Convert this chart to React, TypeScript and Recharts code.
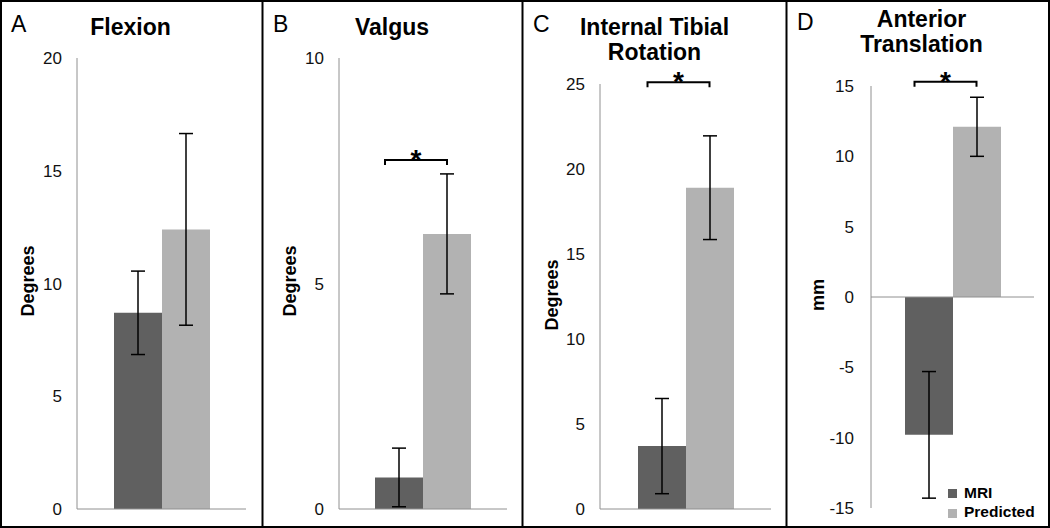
import React from 'react';
import { BarChart, Bar, XAxis, YAxis, ErrorBar, ReferenceLine } from 'recharts';

// values
const panelLetters = ['A', 'B', 'C', 'D'];
const panelTitles = [['Flexion'], ['Valgus'], ['Internal Tibial', 'Rotation'], ['Anterior', 'Translation']];
const yAxisTitles = ['Degrees', 'Degrees', 'Degrees', 'mm'];
const mriMeans = [8.7, 0.7, 3.7, -9.8];
const mriErrors = [1.85, 0.65, 2.8, 4.5];
const predictedMeans = [12.4, 6.1, 18.9, 12.1];
const predictedErrors = [4.25, 1.33, 3.05, 2.1];
const yTicks = [
  [0, 5, 10, 15, 20],
  [0, 5, 10],
  [0, 5, 10, 15, 20, 25],
  [-15, -10, -5, 0, 5, 10, 15],
];
// height of the significance bracket (null = not significant)
const bracketHeights = [null, 7.74, 25.1, 15.3];
const seriesNames = ['MRI', 'Predicted'];

const MRI_COLOR = '#606060';
const PRED_COLOR = '#b2b2b2';
const AXIS_COLOR = '#909090';
const FONT = '"Liberation Sans", Arial, sans-serif';

// panel geometry
const layout = [
  { left: 0, width: 262, axisW: 77, top: 58, bottom: 19, right: 16, tickGap: 15, titleY: 35, letterY: 32, labelX: 28, labelY: 281 },
  { left: 262, width: 260, axisW: 77, top: 58, bottom: 19, right: 15, tickGap: 15, titleY: 35, letterY: 32, labelX: 28, labelY: 281 },
  { left: 522, width: 264, axisW: 78, top: 84, bottom: 19, right: 15, tickGap: 15, titleY: 35, letterY: 32, labelX: 29.5, labelY: 295 },
  { left: 786, width: 264, axisW: 85, top: 86, bottom: 20, right: 16, tickGap: 17, titleY: 27, letterY: 30, labelX: 32, labelY: 295 },
];

const Bracket = (props: any) => {
  const { x1, x2, y1 } = props;
  const cx = (x1 + x2) / 2;
  const l = cx - 38;
  const r = cx + 24;
  return (
    <g>
      <path d={`M${l},${y1 + 5}V${y1}H${r}V${y1 + 5}`} stroke="#000" strokeWidth={2} fill="none" />
      <text x={(l + r) / 2} y={y1 + 9} textAnchor="middle" fontSize={28} fontWeight="bold" fill="#000">*</text>
    </g>
  );
};

const Panel = ({ i }: { i: number }) => {
  const L = layout[i];
  const ticks = yTicks[i];
  const data = [{
    name: panelTitles[i].join(' '),
    mri: mriMeans[i],
    mriErr: mriErrors[i],
    pred: predictedMeans[i],
    predErr: predictedErrors[i],
  }];
  return (
    <div style={{ position: 'absolute', left: L.left, top: 0 }}>
      <BarChart
        width={L.width}
        height={528}
        data={data}
        margin={{ top: L.top, right: L.right, bottom: L.bottom, left: 0 }}
        barGap={0}
        barSize={48}
      >
        <XAxis dataKey="name" hide />
        <YAxis
          width={L.axisW}
          domain={[ticks[0], ticks[ticks.length - 1]]}
          ticks={ticks}
          interval={0}
          tickLine={false}
          tickSize={0}
          tickMargin={L.tickGap}
          axisLine={{ stroke: AXIS_COLOR, strokeWidth: 1 }}
          tick={{ fill: '#111', fontSize: 17 }}
        />
        <ReferenceLine y={0} stroke={AXIS_COLOR} strokeWidth={1} />
        <Bar dataKey="mri" name={seriesNames[0]} fill={MRI_COLOR} isAnimationActive={false}>
          <ErrorBar dataKey="mriErr" width={7} stroke="#000" strokeWidth={1.5} direction="y" />
        </Bar>
        <Bar dataKey="pred" name={seriesNames[1]} fill={PRED_COLOR} isAnimationActive={false}>
          <ErrorBar dataKey="predErr" width={7} stroke="#000" strokeWidth={1.5} direction="y" />
        </Bar>
        {bracketHeights[i] !== null && (
          <ReferenceLine y={bracketHeights[i] as number} ifOverflow="visible" shape={Bracket} />
        )}
      </BarChart>
    </div>
  );
};

export default function App() {
  return (
    <div style={{ position: 'absolute', left: 0, top: 0, width: 1050, height: 528, background: '#fff', fontFamily: FONT, overflow: 'hidden' }}>
      {layout.map((_, i) => <Panel key={i} i={i} />)}
      <svg width={1050} height={528} style={{ position: 'absolute', left: 0, top: 0, pointerEvents: 'none' }} fontFamily={FONT}>
        {layout.map((L, i) => {
          const cx = L.left + L.axisW + (L.width - L.axisW - L.right) / 2 - 31;
          return (
            <g key={i}>
              <text x={L.left + 11} y={L.letterY} fontSize={23} fill="#000">{panelLetters[i]}</text>
              {panelTitles[i].map((t, k) => (
                <text key={k} x={cx} y={L.titleY + k * 25} textAnchor="middle" fontSize={23} fontWeight="bold" fill="#000">{t}</text>
              ))}
              <text
                transform={`translate(${L.left + L.labelX},${L.labelY}) rotate(-90)`}
                textAnchor="middle"
                dominantBaseline="central"
                fontSize={18}
                fontWeight="bold"
                fill="#000"
              >
                {yAxisTitles[i]}
              </text>
            </g>
          );
        })}
        {/* legend */}
        <rect x={948} y={489} width={9} height={9} fill={MRI_COLOR} />
        <text x={964} y={498} fontSize={15.5} fontWeight="bold" fill="#000">{seriesNames[0]}</text>
        <rect x={948} y={509} width={9} height={9} fill={PRED_COLOR} />
        <text x={964} y={517} fontSize={15.5} fontWeight="bold" fill="#000">{seriesNames[1]}</text>
        {/* panel frames */}
        <rect x={1} y={1} width={1048} height={526} fill="none" stroke="#000" strokeWidth={2} />
        <line x1={262.5} y1={0} x2={262.5} y2={528} stroke="#000" strokeWidth={2} />
        <line x1={522.5} y1={0} x2={522.5} y2={528} stroke="#000" strokeWidth={2} />
        <line x1={786.5} y1={0} x2={786.5} y2={528} stroke="#000" strokeWidth={2} />
      </svg>
    </div>
  );
}
